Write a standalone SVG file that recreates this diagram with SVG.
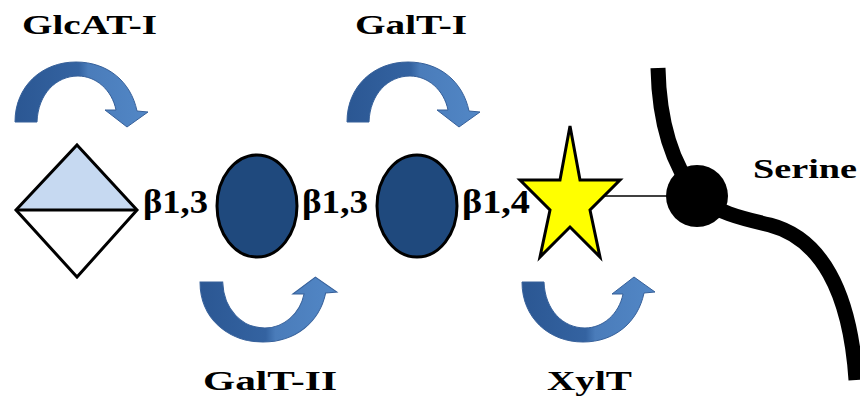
<svg xmlns="http://www.w3.org/2000/svg" width="860" height="398" viewBox="0 0 860 398">
  <defs>
    <linearGradient id="arrowGrad" x1="0" y1="0" x2="1" y2="0">
      <stop offset="0" stop-color="#2b5793"/>
      <stop offset="0.48" stop-color="#3463a1"/>
      <stop offset="0.55" stop-color="#4a7cba"/>
      <stop offset="1" stop-color="#5287c6"/>
    </linearGradient>
    <path id="curvedArrow" d="M 1 60 C 1 24, 28 0, 62 0 C 94 0, 117 20, 123 49 L 134 50 L 113 65 L 91 48 L 102 48 C 98 28, 82 14, 64 14 C 42 14, 24 32, 23 60 Z"/>
  </defs>
  <style>
    .lbl { font-family: "Liberation Serif", "Times New Roman", serif; font-weight: bold; fill: #000; }
    .enz { font-size: 28px; }
    .bond { font-size: 33px; }
    .arrow { fill: url(#arrowGrad); stroke: #36609a; stroke-width: 1; }
    .sym { stroke: #000; stroke-width: 3; stroke-linejoin: miter; }
  </style>
  <rect width="860" height="398" fill="#fff"/>

  <g id="connectors">
    <line x1="575" y1="196" x2="697" y2="196" stroke="#000" stroke-width="1.5"/>
    <path d="M 658 68 C 659 115, 668 160, 697 195 C 715 212, 740 218, 770 225 C 820 238, 850 290, 856 380" fill="none" stroke="#000" stroke-width="15"/>
  </g>

  <g id="arrow-glcat">
    <use href="#curvedArrow" class="arrow" transform="translate(14,62)"/>
    <text class="lbl enz" x="22" y="34" textLength="135" lengthAdjust="spacingAndGlyphs">GlcAT-I</text>
  </g>
  <g id="arrow-galt1">
    <use href="#curvedArrow" class="arrow" transform="translate(346,62)"/>
    <text class="lbl enz" x="355" y="34" textLength="112" lengthAdjust="spacingAndGlyphs">GalT-I</text>
  </g>
  <g id="arrow-galt2">
    <use href="#curvedArrow" class="arrow" transform="translate(199,342) scale(1.03,-1)"/>
    <text class="lbl enz" x="203" y="390" textLength="134" lengthAdjust="spacingAndGlyphs">GalT-II</text>
  </g>
  <g id="arrow-xylt">
    <use href="#curvedArrow" class="arrow" transform="translate(521,342) scale(1,-1)"/>
    <text class="lbl enz" x="547" y="390" textLength="85" lengthAdjust="spacingAndGlyphs">XylT</text>
  </g>

  <g id="glca">
    <polygon points="16,210 77,145 137,210" fill="#c6d9f1"/>
    <polygon points="16,210 137,210 77,277" fill="#fff"/>
    <polygon class="sym" points="77,145 137,210 77,277 16,210" fill="none"/>
    <line class="sym" x1="16" y1="210" x2="137" y2="210"/>
  </g>
  <text class="lbl bond" x="143" y="213" textLength="65" lengthAdjust="spacingAndGlyphs">β1,3</text>

  <g id="gal1">
    <ellipse class="sym" cx="257" cy="206" rx="40" ry="51" fill="#1f497d"/>
  </g>
  <text class="lbl bond" x="302" y="213" textLength="66" lengthAdjust="spacingAndGlyphs">β1,3</text>

  <g id="gal2">
    <ellipse class="sym" cx="417" cy="206" rx="40" ry="51" fill="#1f497d"/>
  </g>
  <text class="lbl bond" x="462" y="213" textLength="68" lengthAdjust="spacingAndGlyphs">β1,4</text>

  <g id="xyl">
    <polygon class="sym" points="570,126 580,180 620,180 590,210 600,257 570,227 540,257 550,210 520,180 560,180" fill="#ffff00"/>
  </g>

  <g id="serine">
    <circle cx="697" cy="196" r="31" fill="#000"/>
    <text class="lbl" x="753" y="178" font-size="27" textLength="104" lengthAdjust="spacingAndGlyphs">Serine</text>
  </g>
</svg>
